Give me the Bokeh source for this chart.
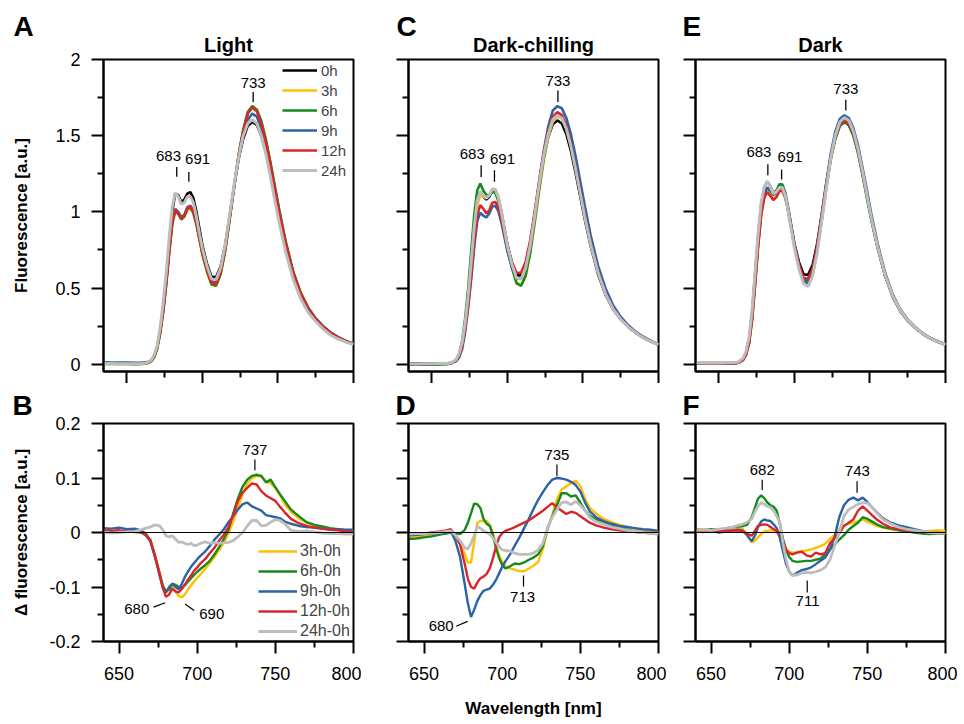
from bokeh.plotting import figure
from bokeh.layouts import row, column
from bokeh.models import Range1d, FixedTicker, Label, Legend, LegendItem, Span, Title
from bokeh.embed import file_html
from bokeh.resources import INLINE

FONT = "Liberation Sans"

# ---------------- data: emission spectra (top row) ----------------
WL_SPEC = [635, 640, 645, 650, 655, 660,
           663, 666, 668,
           670, 672, 674, 676, 678, 680, 682, 684, 686, 688, 690, 692, 694, 696, 698, 700,
           703, 706, 709, 712, 715, 718, 721, 724, 727, 730, 733, 736, 739, 742, 745, 748, 751,
           755, 760, 765, 770, 775, 780, 785, 790, 795, 800]

A_0h = [0.005, 0.004, 0.003, 0.003, 0.002, 0.003,
        0.006, 0.02, 0.05,
        0.11, 0.22, 0.37, 0.56, 0.79, 1.0, 1.12, 1.11, 1.065, 1.08, 1.12, 1.13, 1.09, 1.0, 0.89, 0.78,
        0.66, 0.575, 0.57, 0.64, 0.78, 0.97, 1.17, 1.35, 1.48, 1.565, 1.59, 1.57, 1.5, 1.39, 1.25, 1.1, 0.95,
        0.77, 0.58, 0.45, 0.355, 0.29, 0.24, 0.2, 0.17, 0.148, 0.13]
A_3h = [0.003, 0.003, 0.002, 0.003, 0.002, 0.003,
        0.006, 0.019, 0.047,
        0.1, 0.2, 0.34, 0.52, 0.73, 0.915, 1.005, 0.99, 0.955, 0.965, 1.01, 1.02, 0.99, 0.915, 0.815, 0.715,
        0.605, 0.522, 0.515, 0.59, 0.74, 0.95, 1.165, 1.37, 1.53, 1.645, 1.685, 1.665, 1.59, 1.47, 1.32, 1.16, 1.0,
        0.81, 0.61, 0.47, 0.37, 0.3, 0.248, 0.207, 0.176, 0.151, 0.133]
A_6h = [0.002, 0.002, 0.001, 0.002, 0.001, 0.002,
        0.005, 0.018, 0.045,
        0.1, 0.2, 0.34, 0.52, 0.73, 0.92, 1.005, 0.985, 0.95, 0.97, 1.02, 1.03, 0.995, 0.92, 0.82, 0.72,
        0.61, 0.525, 0.515, 0.59, 0.74, 0.95, 1.17, 1.38, 1.54, 1.655, 1.695, 1.67, 1.595, 1.475, 1.325, 1.165, 1.005,
        0.81, 0.61, 0.47, 0.37, 0.3, 0.248, 0.207, 0.176, 0.151, 0.133]
A_9h = [0.012, 0.011, 0.01, 0.011, 0.009, 0.01,
        0.012, 0.025, 0.055,
        0.115, 0.22, 0.36, 0.54, 0.75, 0.94, 1.02, 1.0, 0.965, 0.98, 1.03, 1.04, 1.005, 0.93, 0.835, 0.735,
        0.625, 0.545, 0.535, 0.61, 0.76, 0.96, 1.165, 1.355, 1.5, 1.605, 1.645, 1.625, 1.55, 1.435, 1.29, 1.135, 0.98,
        0.795, 0.6, 0.465, 0.365, 0.297, 0.246, 0.206, 0.176, 0.152, 0.135]
A_12h = [0.004, 0.005, 0.004, 0.003, 0.003, 0.003,
         0.006, 0.02, 0.05,
         0.11, 0.21, 0.35, 0.53, 0.74, 0.93, 1.015, 0.99, 0.955, 0.975, 1.025, 1.035, 1.0, 0.93, 0.83, 0.73,
         0.62, 0.535, 0.525, 0.6, 0.75, 0.96, 1.17, 1.37, 1.53, 1.645, 1.685, 1.66, 1.58, 1.46, 1.31, 1.15, 0.99,
         0.8, 0.6, 0.465, 0.365, 0.295, 0.245, 0.205, 0.175, 0.15, 0.132]
A_24h = [0.005, 0.004, 0.003, 0.003, 0.003, 0.004,
         0.008, 0.025, 0.06,
         0.12, 0.24, 0.4, 0.6, 0.83, 1.03, 1.125, 1.1, 1.05, 1.06, 1.1, 1.1, 1.06, 0.97, 0.86, 0.76,
         0.645, 0.56, 0.555, 0.63, 0.78, 0.98, 1.18, 1.36, 1.5, 1.58, 1.605, 1.58, 1.5, 1.38, 1.23, 1.07, 0.92,
         0.74, 0.56, 0.43, 0.34, 0.28, 0.23, 0.19, 0.165, 0.145, 0.128]

C_0h = [0.004, 0.003, 0.004, 0.003, 0.004, 0.005,
        0.008, 0.025, 0.06,
        0.13, 0.26, 0.44, 0.66, 0.89, 1.07, 1.13, 1.1, 1.08, 1.1, 1.14, 1.135, 1.09, 1.0, 0.89, 0.785,
        0.665, 0.585, 0.58, 0.65, 0.79, 0.98, 1.18, 1.36, 1.49, 1.575, 1.6, 1.58, 1.51, 1.4, 1.26, 1.11, 0.96,
        0.78, 0.59, 0.455, 0.36, 0.295, 0.245, 0.205, 0.174, 0.148, 0.128]
C_3h = [0.0, -0.001, -0.001, 0.0, 0.001, 0.002,
        0.006, 0.022, 0.055,
        0.12, 0.24, 0.41, 0.62, 0.85, 1.04, 1.11, 1.1, 1.09, 1.11, 1.15, 1.15, 1.1, 1.0, 0.885, 0.77,
        0.645, 0.54, 0.515, 0.575, 0.72, 0.92, 1.13, 1.33, 1.49, 1.59, 1.625, 1.615, 1.55, 1.445, 1.31, 1.155, 1.0,
        0.81, 0.615, 0.47, 0.37, 0.3, 0.248, 0.207, 0.175, 0.15, 0.13]
C_6h = [-0.002, -0.003, -0.004, -0.003, -0.002, 0.0,
        0.006, 0.028, 0.07,
        0.15, 0.3, 0.5, 0.74, 0.98, 1.14, 1.186, 1.14, 1.11, 1.11, 1.13, 1.125, 1.07, 0.975, 0.86, 0.75,
        0.63, 0.53, 0.515, 0.58, 0.73, 0.935, 1.15, 1.35, 1.505, 1.605, 1.64, 1.625, 1.56, 1.45, 1.31, 1.155, 1.0,
        0.81, 0.615, 0.47, 0.37, 0.3, 0.248, 0.207, 0.175, 0.15, 0.13]
C_9h = [0.001, 0.0, 0.001, 0.002, 0.002, 0.004,
        0.007, 0.02, 0.045,
        0.1, 0.21, 0.37, 0.56, 0.77, 0.94, 0.994, 0.975, 0.963, 0.99, 1.035, 1.04, 1.005, 0.93, 0.835, 0.74,
        0.635, 0.565, 0.56, 0.635, 0.785, 0.985, 1.2, 1.4, 1.56, 1.665, 1.693, 1.68, 1.615, 1.51, 1.37, 1.21, 1.05,
        0.85, 0.645, 0.495, 0.385, 0.31, 0.255, 0.212, 0.18, 0.153, 0.132]
C_12h = [0.002, 0.003, 0.002, 0.003, 0.004, 0.006,
         0.009, 0.025, 0.055,
         0.115, 0.23, 0.39, 0.58, 0.8, 0.98, 1.044, 1.02, 0.99, 1.01, 1.06, 1.065, 1.03, 0.955, 0.86, 0.77,
         0.67, 0.6, 0.6, 0.67, 0.81, 1.0, 1.2, 1.39, 1.53, 1.625, 1.655, 1.635, 1.565, 1.45, 1.3, 1.145, 0.99,
         0.8, 0.605, 0.465, 0.365, 0.297, 0.246, 0.206, 0.175, 0.15, 0.13]
C_24h = [0.003, 0.002, 0.003, 0.003, 0.004, 0.005,
         0.009, 0.03, 0.07,
         0.14, 0.27, 0.45, 0.67, 0.9, 1.075, 1.13, 1.11, 1.09, 1.11, 1.15, 1.145, 1.095, 1.0, 0.885, 0.775,
         0.655, 0.565, 0.56, 0.63, 0.775, 0.97, 1.18, 1.37, 1.51, 1.605, 1.634, 1.615, 1.545, 1.43, 1.285, 1.13, 0.975,
         0.79, 0.6, 0.46, 0.362, 0.295, 0.245, 0.205, 0.174, 0.149, 0.129]

E_0h = [0.005, 0.004, 0.005, 0.004, 0.004, 0.005,
        0.01, 0.03, 0.07,
        0.15, 0.32, 0.56, 0.8, 1.0, 1.11, 1.15, 1.135, 1.115, 1.13, 1.16, 1.155, 1.1, 1.01, 0.9, 0.79,
        0.67, 0.59, 0.585, 0.65, 0.79, 0.98, 1.18, 1.36, 1.48, 1.565, 1.59, 1.57, 1.505, 1.395, 1.255, 1.1, 0.95,
        0.77, 0.58, 0.445, 0.35, 0.287, 0.238, 0.2, 0.17, 0.147, 0.13]
E_3h = [0.008, 0.009, 0.008, 0.007, 0.008, 0.009,
        0.012, 0.028, 0.063,
        0.135, 0.29, 0.52, 0.77, 0.98, 1.095, 1.14, 1.115, 1.085, 1.1, 1.14, 1.145, 1.095, 1.0, 0.89, 0.775,
        0.645, 0.555, 0.545, 0.61, 0.76, 0.96, 1.165, 1.35, 1.485, 1.57, 1.595, 1.577, 1.51, 1.4, 1.26, 1.105, 0.953,
        0.775, 0.585, 0.45, 0.354, 0.29, 0.24, 0.201, 0.171, 0.148, 0.131]
E_6h = [0.008, 0.007, 0.008, 0.007, 0.008, 0.009,
        0.014, 0.035, 0.08,
        0.17, 0.35, 0.6, 0.85, 1.05, 1.16, 1.2, 1.17, 1.125, 1.14, 1.18, 1.18, 1.125, 1.02, 0.9, 0.78,
        0.645, 0.545, 0.525, 0.59, 0.74, 0.94, 1.15, 1.34, 1.48, 1.565, 1.59, 1.57, 1.5, 1.39, 1.245, 1.09, 0.94,
        0.765, 0.58, 0.445, 0.35, 0.286, 0.237, 0.198, 0.168, 0.146, 0.128]
E_9h = [0.004, 0.005, 0.004, 0.005, 0.004, 0.006,
        0.01, 0.028, 0.065,
        0.14, 0.3, 0.54, 0.79, 1.0, 1.115, 1.16, 1.14, 1.11, 1.125, 1.165, 1.165, 1.11, 1.01, 0.895, 0.78,
        0.65, 0.555, 0.54, 0.61, 0.765, 0.97, 1.185, 1.38, 1.525, 1.61, 1.634, 1.615, 1.55, 1.44, 1.295, 1.14, 0.98,
        0.795, 0.6, 0.46, 0.36, 0.293, 0.243, 0.203, 0.172, 0.149, 0.131]
E_12h = [0.006, 0.005, 0.006, 0.005, 0.006, 0.007,
         0.01, 0.028, 0.065,
         0.14, 0.3, 0.53, 0.78, 0.98, 1.09, 1.13, 1.105, 1.077, 1.095, 1.135, 1.14, 1.09, 0.995, 0.885, 0.775,
         0.65, 0.565, 0.56, 0.625, 0.77, 0.965, 1.17, 1.355, 1.49, 1.575, 1.6, 1.58, 1.515, 1.405, 1.265, 1.11, 0.955,
         0.775, 0.585, 0.45, 0.353, 0.288, 0.239, 0.2, 0.17, 0.147, 0.129]
E_24h = [0.009, 0.008, 0.009, 0.008, 0.009, 0.01,
         0.015, 0.04, 0.085,
         0.18, 0.36, 0.61, 0.86, 1.06, 1.165, 1.2, 1.165, 1.12, 1.13, 1.16, 1.16, 1.105, 1.0, 0.88, 0.76,
         0.625, 0.53, 0.51, 0.58, 0.73, 0.935, 1.15, 1.35, 1.5, 1.59, 1.619, 1.6, 1.53, 1.415, 1.27, 1.11, 0.955,
         0.775, 0.585, 0.45, 0.354, 0.289, 0.24, 0.2, 0.17, 0.147, 0.129]

# ---------------- data: difference spectra (bottom row) ----------------
WL_DIFF = [640, 645, 650, 655, 660, 664,
           667, 670, 673, 676, 678,
           680, 682, 684, 686, 688, 690, 692, 694, 696, 698, 700, 702,
           705, 708, 711, 714, 717, 720, 723, 726, 729, 732, 735, 738, 741, 744, 747, 750, 753, 756,
           760, 765, 770, 775, 780, 785, 790, 795, 800]

B_3h = [0.003, 0.002, 0.003, 0.002, 0.002, 0.001,
        -0.004, -0.014, -0.042, -0.074, -0.098,
        -0.11, -0.104, -0.1, -0.108, -0.116, -0.119, -0.114, -0.105, -0.097, -0.09, -0.083, -0.077,
        -0.067, -0.056, -0.045, -0.032, -0.018, -0.002, 0.02, 0.045, 0.07, 0.09, 0.1, 0.104, 0.102, 0.094, 0.09, 0.082, 0.068, 0.052,
        0.038, 0.026, 0.018, 0.012, 0.009, 0.007, 0.005, 0.004, 0.003]
B_6h = [0.002, 0.002, 0.001, 0.002, 0.001, 0.0,
        -0.005, -0.016, -0.045, -0.077, -0.098,
        -0.108, -0.104, -0.094, -0.096, -0.1, -0.102, -0.097, -0.09, -0.084, -0.078, -0.072, -0.067,
        -0.06, -0.052, -0.04, -0.027, -0.012, 0.005, 0.035, 0.062, 0.084, 0.097, 0.104, 0.106, 0.104, 0.092, 0.097, 0.083, 0.07, 0.058,
        0.042, 0.03, 0.019, 0.014, 0.011, 0.008, 0.006, 0.004, 0.003]
B_9h = [0.008, 0.007, 0.009, 0.006, 0.007, 0.004,
        -0.002, -0.015, -0.045, -0.08, -0.102,
        -0.11, -0.1, -0.094, -0.1, -0.104, -0.095, -0.082, -0.072, -0.063, -0.056, -0.049, -0.043,
        -0.035, -0.025, -0.013, -0.004, 0.006, 0.019, 0.03, 0.042, 0.052, 0.055, 0.048, 0.044, 0.04, 0.032, 0.03, 0.028, 0.026, 0.02,
        0.016, 0.012, 0.01, 0.009, 0.007, 0.006, 0.006, 0.005, 0.005]
B_12h = [0.004, 0.003, 0.004, 0.002, 0.003, 0.001,
         -0.004, -0.014, -0.043, -0.077, -0.102,
         -0.118, -0.114, -0.103, -0.108, -0.11, -0.104, -0.096, -0.087, -0.079, -0.07, -0.064, -0.057,
         -0.049, -0.038, -0.028, -0.015, -0.004, 0.01, 0.032, 0.058, 0.073, 0.082, 0.09, 0.088, 0.076, 0.068, 0.063, 0.058, 0.047, 0.037,
         0.025, 0.017, 0.012, 0.009, 0.007, 0.005, 0.004, 0.002, 0.001]
B_24h = [0.001, -0.001, 0.0, 0.001, 0.002, 0.005,
         0.008, 0.01, 0.014, 0.012, 0.005,
         -0.006, -0.008, -0.006, -0.012, -0.018, -0.017, -0.02, -0.022, -0.02, -0.024, -0.023, -0.02,
         -0.017, -0.02, -0.018, -0.02, -0.019, -0.018, -0.015, -0.008, 0.0, 0.012, 0.022, 0.022, 0.012, 0.013, 0.019, 0.024, 0.022, 0.016,
         0.004, 0.002, 0.003, 0.001, -0.001, -0.002, -0.002, -0.003, -0.003]

D_3h = [-0.008, -0.007, -0.006, -0.005, -0.003, -0.001,
        0.0, -0.006, -0.018, -0.04, -0.055,
        -0.055, -0.018, 0.018, 0.021, 0.021, 0.021, 0.014, 0.0, -0.024, -0.042, -0.054, -0.062,
        -0.066, -0.068, -0.071, -0.071, -0.066, -0.061, -0.054, -0.03, 0.005, 0.032, 0.061, 0.079, 0.085, 0.091, 0.095, 0.085, 0.062, 0.045,
        0.035, 0.025, 0.019, 0.014, 0.01, 0.007, 0.004, 0.002, 0.0]
D_6h = [-0.012, -0.011, -0.009, -0.007, -0.004, -0.002,
        0.0, -0.002, -0.003, 0.005, 0.018,
        0.035, 0.053, 0.052, 0.045, 0.025, 0.016, 0.012, -0.005, -0.028, -0.047, -0.06, -0.066,
        -0.062, -0.057, -0.058, -0.055, -0.05, -0.046, -0.04, -0.025, 0.008, 0.03, 0.05, 0.072, 0.072, 0.066, 0.068, 0.055, 0.04, 0.031,
        0.024, 0.019, 0.014, 0.009, 0.005, 0.002, 0.0, -0.002, -0.003]
D_9h = [-0.005, -0.004, -0.003, -0.002, -0.001, 0.001,
        0.003, -0.015, -0.045, -0.095, -0.13,
        -0.155, -0.142, -0.126, -0.115, -0.107, -0.105, -0.103, -0.096, -0.087, -0.075, -0.063, -0.053,
        -0.04, -0.024, -0.009, 0.008, 0.025, 0.043, 0.06, 0.074, 0.087, 0.097, 0.1, 0.099, 0.097, 0.093, 0.087, 0.075, 0.055, 0.039,
        0.028, 0.021, 0.016, 0.012, 0.01, 0.008, 0.006, 0.005, 0.003]
D_12h = [-0.003, -0.002, -0.002, 0.0, 0.002, 0.004,
         0.006, -0.005, -0.022, -0.058, -0.085,
         -0.1, -0.103, -0.092, -0.084, -0.081, -0.076, -0.066, -0.048, -0.026, -0.009, -0.001, 0.003,
         0.006, 0.01, 0.014, 0.018, 0.022, 0.028, 0.034, 0.04, 0.047, 0.054, 0.046, 0.04, 0.034, 0.038, 0.036, 0.03, 0.024, 0.018,
         0.013, 0.009, 0.006, 0.004, 0.002, 0.001, 0.0, -0.001, -0.001]
D_24h = [-0.003, -0.002, -0.002, -0.001, 0.0, 0.002,
         0.003, -0.005, -0.015, -0.028, -0.03,
         -0.02, -0.006, 0.011, 0.008, 0.003, 0.0, -0.003, -0.01, -0.018, -0.026, -0.032, -0.033,
         -0.034, -0.038, -0.04, -0.04, -0.04, -0.038, -0.032, -0.02, 0.008, 0.028, 0.042, 0.055, 0.056, 0.051, 0.057, 0.05, 0.04, 0.028,
         0.02, 0.015, 0.01, 0.007, 0.004, 0.002, 0.0, -0.002, -0.003]

F_3h = [0.005, 0.006, 0.004, 0.005, 0.006, 0.008,
        0.009, 0.008, -0.004, -0.018, -0.015,
        -0.009, -0.003, 0.002, 0.003, 0.004, 0.003, 0.0, -0.008, -0.018, -0.03, -0.036, -0.037,
        -0.036, -0.034, -0.033, -0.031, -0.028, -0.025, -0.021, -0.012, -0.005, 0.006, 0.013, 0.016, 0.018, 0.021, 0.024, 0.02, 0.016, 0.012,
        0.009, 0.006, 0.005, 0.004, 0.003, 0.002, 0.003, 0.004, 0.003]
F_6h = [0.005, 0.004, 0.006, 0.005, 0.008, 0.01,
        0.011, 0.012, 0.014, 0.028, 0.045,
        0.062, 0.068, 0.063, 0.055, 0.05, 0.047, 0.04, 0.015, -0.012, -0.033, -0.045, -0.052,
        -0.054, -0.053, -0.052, -0.052, -0.05, -0.048, -0.04, -0.031, -0.022, -0.013, -0.005, 0.005, 0.012, 0.018, 0.028, 0.025, 0.02, 0.015,
        0.01, 0.007, 0.004, 0.002, 0.0, -0.002, -0.003, -0.002, -0.002]
F_9h = [0.003, 0.001, 0.003, 0.0, 0.002, 0.004,
        0.005, 0.004, -0.005, -0.016, -0.006,
        0.01, 0.02, 0.024, 0.022, 0.021, 0.015, 0.008, -0.01, -0.035, -0.058, -0.072, -0.079,
        -0.074, -0.069, -0.067, -0.064, -0.058, -0.052, -0.046, -0.032, -0.008, 0.028, 0.05, 0.06, 0.064, 0.059, 0.064, 0.056, 0.046, 0.037,
        0.026, 0.018, 0.013, 0.01, 0.006, 0.003, 0.0, -0.001, -0.002]
F_12h = [0.002, 0.003, 0.002, 0.003, 0.004, 0.003,
         0.004, 0.002, -0.002, -0.006, 0.003,
         0.012, 0.014, 0.015, 0.014, 0.01, 0.006, 0.003, 0.0, -0.015, -0.032, -0.038, -0.04,
         -0.037, -0.035, -0.042, -0.044, -0.037, -0.04, -0.038, -0.02, -0.01, -0.002, 0.012, 0.018, 0.024, 0.04, 0.048, 0.04, 0.032, 0.024,
         0.016, 0.009, 0.006, 0.004, 0.002, 0.001, 0.0, -0.001, -0.001]
F_24h = [0.004, 0.005, 0.004, 0.006, 0.008, 0.01,
         0.013, 0.015, 0.019, 0.025, 0.038,
         0.048, 0.055, 0.052, 0.048, 0.046, 0.04, 0.03, 0.018, -0.02, -0.05, -0.072, -0.078,
         -0.078, -0.074, -0.073, -0.074, -0.072, -0.069, -0.064, -0.05, -0.025, 0.0, 0.03, 0.042, 0.047, 0.052, 0.055, 0.054, 0.046, 0.036,
         0.024, 0.016, 0.01, 0.006, 0.004, 0.002, 0.0, -0.001, -0.001]

SPEC_LABELS = ["0h", "3h", "6h", "9h", "12h", "24h"]
DIFF_LABELS = ["3h-0h", "6h-0h", "9h-0h", "12h-0h", "24h-0h"]
TITLES = ["Light", "Dark-chilling", "Dark"]

BLACK, YELLOW, GREEN, BLUE, RED, GRAY = "#000000", "#FFC000", "#178A1E", "#2C63A6", "#D8262B", "#BDBDBD"
SPEC_COLORS = [BLACK, YELLOW, GREEN, BLUE, RED, GRAY]
DIFF_COLORS = [YELLOW, GREEN, BLUE, RED, GRAY]

TOP_X = (634.5, 800)
BOT_X = (640, 800)
TOP_Y = (-0.048, 2.0)
BOT_Y = (-0.2, 0.2)


def style_fig(p, show_xlabels, show_ylabels, yticks, yminor, ylabels):
    p.grid.visible = False
    p.outline_line_color = "black"
    p.outline_line_width = 2
    p.outline_line_alpha = 1
    p.background_fill_color = "white"
    p.border_fill_color = "white"
    xa, ya = p.xaxis[0], p.yaxis[0]
    for ax in (xa, ya):
        ax.axis_line_width = 2
        ax.major_tick_line_width = 2
        ax.minor_tick_line_width = 2
        ax.major_tick_out = 12
        ax.major_tick_in = 0
        ax.minor_tick_out = 6
        ax.minor_tick_in = 0
        ax.major_label_text_font = FONT
        ax.major_label_text_color = "black"
        ax.axis_label_text_font = FONT
        ax.axis_label_text_font_style = "bold"
        ax.axis_label_text_font_size = "17px"
        ax.axis_label_text_color = "black"
    xa.ticker = FixedTicker(ticks=[650, 700, 750, 800], minor_ticks=[675, 725, 775])
    ya.ticker = FixedTicker(ticks=yticks, minor_ticks=yminor)
    if show_xlabels:
        xa.major_label_text_font_size = "18px"
        xa.major_label_standoff = 13
    else:
        xa.major_label_text_font_size = "0px"
        xa.major_label_standoff = 0
        xa.major_label_overrides = {t: "" for t in [650, 700, 750, 800]}
    if show_ylabels:
        ya.major_label_text_font_size = "18px"
        ya.major_label_standoff = 11
        ya.major_label_overrides = dict(zip(yticks, ylabels))
    else:
        ya.major_label_text_font_size = "0px"
        ya.major_label_standoff = 0
        ya.major_label_overrides = {t: "" for t in yticks}


def add_text(p, x, y, text, size="15px"):
    p.add_layout(Label(x=x, y=y, text=text, text_font=FONT, text_font_size=size,
                       text_align="center", text_baseline="middle", text_color="black"))


def add_letter(p, letter, offset, standoff):
    p.add_layout(Title(text=letter, align="left", offset=offset, standoff=standoff,
                       text_font=FONT, text_font_size="28px", text_font_style="bold",
                       text_color="black"), "above")


def make_top(series, left, right, title, letter, letter_off, anns, legend=False, ylabel=None):
    p = figure(frame_width=250, frame_height=312, x_range=Range1d(*TOP_X), y_range=Range1d(*TOP_Y),
               min_border_left=left, min_border_right=right, min_border_top=59, min_border_bottom=12,
               output_backend="svg", toolbar_location=None)
    style_fig(p, False, ylabel is not None, [0, 0.5, 1, 1.5, 2], [0.25, 0.75, 1.25, 1.75],
              ["0", "0.5", "1", "1.5", "2"])
    if ylabel is not None:
        p.yaxis[0].axis_label = ylabel
        p.yaxis[0].axis_label_standoff = 21
    items = []
    for vals, col, lab in zip(series, SPEC_COLORS, SPEC_LABELS):
        r = p.line(WL_SPEC, vals, line_color=col, line_width=2.6 if col != GRAY else 3.0)
        items.append(LegendItem(label=lab, renderers=[r]))
    if legend:
        lg = Legend(items=items, location=(179, 191), orientation="vertical",
                    glyph_width=35, glyph_height=20, label_height=20, label_standoff=4,
                    spacing=0, padding=0, margin=0, border_line_color=None,
                    background_fill_alpha=0, label_text_font=FONT, label_text_font_size="15px")
        p.add_layout(lg)
    p.add_layout(Title(text=title, align="center", standoff=8, text_font=FONT,
                       text_font_size="20px", text_font_style="bold", text_color="black"), "above")
    add_letter(p, letter, letter_off, -29)
    x0s, y0s, x1s, y1s = [], [], [], []
    for text, lx, ly, tx, ty0, ty1 in anns:
        add_text(p, lx, ly, text)
        x0s.append(tx); x1s.append(tx); y0s.append(ty0); y1s.append(ty1)
    p.segment(x0=x0s, y0=y0s, x1=x1s, y1=y1s, line_color="black", line_width=1.3)
    return p


def make_bot(series, left, right, letter, letter_off, anns, legend=False, xlabel=None, ylabel=None):
    p = figure(frame_width=250, frame_height=218, x_range=Range1d(*BOT_X), y_range=Range1d(*BOT_Y),
               min_border_left=left, min_border_right=right, min_border_top=40, min_border_bottom=82,
               output_backend="svg", toolbar_location=None)
    style_fig(p, True, ylabel is not None, [-0.2, -0.1, 0, 0.1, 0.2], [-0.15, -0.05, 0.05, 0.15],
              ["-0.2", "-0.1", "0", "0.1", "0.2"])
    if ylabel is not None:
        p.yaxis[0].axis_label = ylabel
        p.yaxis[0].axis_label_standoff = 15
    if xlabel is not None:
        p.xaxis[0].axis_label = xlabel
        p.xaxis[0].axis_label_standoff = 16
    p.add_layout(Span(location=0, dimension="width", line_color="black", line_width=1.2))
    items = []
    for vals, col, lab in zip(series, DIFF_COLORS, DIFF_LABELS):
        r = p.line(WL_DIFF, vals, line_color=col, line_width=2.4 if col != GRAY else 2.8)
        items.append(LegendItem(label=lab, renderers=[r]))
    if legend:
        lg = Legend(items=items, location=(155, 0), orientation="vertical",
                    glyph_width=39, glyph_height=20, label_height=20, label_standoff=3,
                    spacing=0, padding=0, margin=0, border_line_color=None,
                    background_fill_alpha=0, label_text_font=FONT, label_text_font_size="16px")
        p.add_layout(lg)
    add_letter(p, letter, letter_off, 6)
    x0s, y0s, x1s, y1s = [], [], [], []
    for text, lx, ly, seg in anns:
        add_text(p, lx, ly, text)
        x0s.append(seg[0]); y0s.append(seg[1]); x1s.append(seg[2]); y1s.append(seg[3])
    p.segment(x0=x0s, y0=y0s, x1=x1s, y1=y1s, line_color="black", line_width=1.2)
    return p


pA = make_top([A_0h, A_3h, A_6h, A_9h, A_12h, A_24h], 103, 8, TITLES[0], "A", -90,
              [("683", 677.5, 1.367, 683, 1.23, 1.295),
               ("691", 696.8, 1.345, 691, 1.197, 1.262),
               ("733", 733.6, 1.847, 733.6, 1.721, 1.786)], legend=True,
              ylabel="Fluorescence [a.u.]")

pC = make_top([C_0h, C_3h, C_6h, C_9h, C_12h, C_24h], 47, 8, TITLES[1], "C", -12,
              [("683", 676.7, 1.378, 682.6, 1.229, 1.306),
               ("691", 696.7, 1.345, 691.4, 1.197, 1.273),
               ("733", 733.4, 1.858, 733.4, 1.721, 1.797)])

pE = make_top([E_0h, E_3h, E_6h, E_9h, E_12h, E_24h], 29, 12, TITLES[2], "E", -13,
              [("683", 676.5, 1.393, 682.4, 1.240, 1.312),
               ("691", 697.0, 1.36, 691.5, 1.212, 1.278),
               ("733", 734.0, 1.804, 734.0, 1.666, 1.736)])

pB = make_bot([B_3h, B_6h, B_9h, B_12h, B_24h], 103, 8, "B", -91,
              [("737", 736.9, 0.151, (736.9, 0.114, 736.9, 0.134)),
               ("680", 661.3, -0.141, (672.0, -0.137, 679.4, -0.129)),
               ("690", 709.3, -0.150, (692.2, -0.131, 698.0, -0.143))], legend=True,
              ylabel="\u0394 fluorescence [a.u.]")

pD = make_bot([D_3h, D_6h, D_9h, D_12h, D_24h], 47, 8, "D", -13,
              [("735", 735.0, 0.142, (735.0, 0.103, 735.0, 0.125)),
               ("713", 713.0, -0.119, (713.6, -0.099, 713.6, -0.079)),
               ("680", 660.9, -0.172, (670.5, -0.172, 677.8, -0.163))], xlabel="Wavelength [nm]")

pF = make_bot([F_3h, F_6h, F_9h, F_12h, F_24h], 29, 12, "F", -13,
              [("682", 682.7, 0.114, (682.7, 0.078, 682.7, 0.097)),
               ("743", 743.6, 0.113, (743.4, 0.073, 743.4, 0.094)),
               ("711", 711.7, -0.125, (711.5, -0.110, 711.5, -0.088))])

layout = column(row(pA, pC, pE, spacing=0), row(pB, pD, pF, spacing=0), spacing=0)

open("out.html", "w").write(file_html(layout, INLINE))
